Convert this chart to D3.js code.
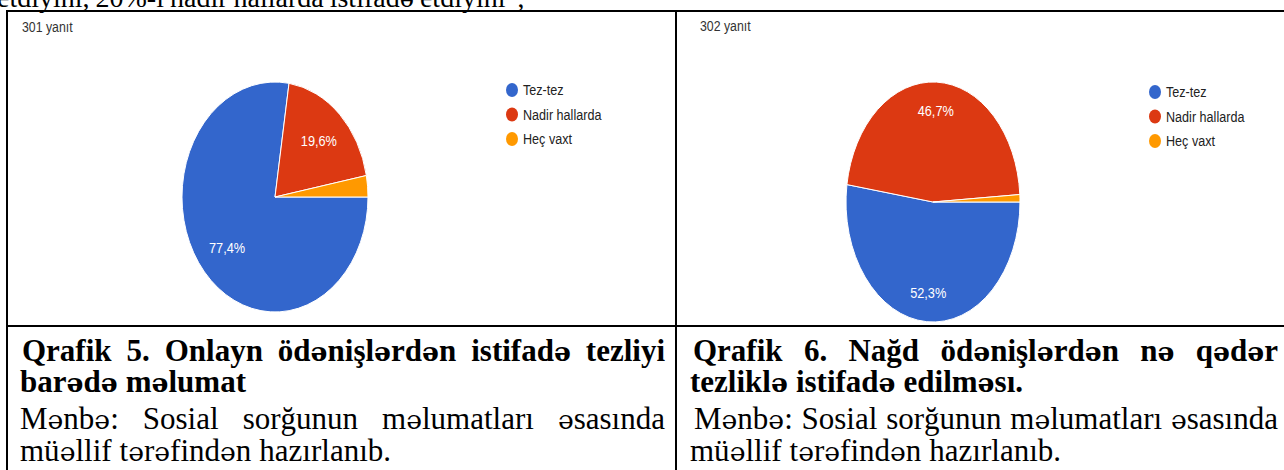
<!DOCTYPE html>
<html>
<head>
<meta charset="utf-8">
<script src="https://cdn.jsdelivr.net/npm/d3@7"></script>
<style>
  html, body { margin: 0; padding: 0; background: #fff; }
  svg { display: block; }
</style>
</head>
<body>
<svg id="page"></svg>
<script>
// survey answers (counts read from the percentages)
const categories = ["Tez-tez", "Nadir hallarda", "Heç vaxt"];
const onlineCounts = [233, 59, 9];   // 301 yanıt
const cashCounts = [158, 141, 3];    // 302 yanıt
const colors = ["#3366cc", "#dc3912", "#ff9900"];

const topLine = "etdiyini, 20%-i nadir hallarda istifadə etdiyini\";";
const caption5 = ["Qrafik 5. Onlayn ödənişlərdən istifadə tezliyi", "barədə məlumat"];
const caption6 = ["Qrafik 6. Nağd ödənişlərdən nə qədər", "tezliklə istifadə edilməsı."];
const source = ["Mənbə: Sosial sorğunun məlumatları əsasında", "müəllif tərəfindən hazırlanıb."];

const W = 1284, H = 470;
const svg = d3.select("#page").attr("width", W).attr("height", H);

const serif = "'Liberation Serif', 'Times New Roman', serif";
const sans = "'Liberation Sans', Arial, sans-serif";

// Liberation Serif has no schwa, so give that letter a serif fallback
function serifText(sel, str) {
  str.split(/([əƏ]+)/).filter(s => s.length).forEach(run => {
    const t = sel.append("tspan").text(run);
    if (/[əƏ]/.test(run)) t.attr("font-family", "'DejaVu Serif', serif").attr("font-size", "0.86em");
  });
  return sel;
}

// line of words, justified between x0 and x1 when asked
function textLine(str, x0, x1, y, size, bold, justify, gapMin) {
  const g = svg.append("g").attr("font-family", serif)
    .attr("font-size", size)
    .attr("font-weight", bold ? "bold" : "normal");
  const words = str.split(" ");
  const nodes = words.map(w => serifText(g.append("text").attr("y", y), w));
  const widths = nodes.map(n => n.node().getComputedTextLength());
  let gap = justify && words.length > 1
    ? (x1 - x0 - d3.sum(widths)) / (words.length - 1) : gapMin;
  if (gap < 6) gap = 6;
  let x = x0;
  nodes.forEach((n, i) => { n.attr("x", x); x += widths[i] + gap; });
}

// cut-off sentence above the table
textLine(topLine, -3, 510, 7, 28, false, true, 8);

// one pie per cell
function drawPie(counts, o) {
  const g = svg.append("g").attr("transform", `translate(${o.cx},${o.cy})`);
  const total = d3.sum(counts);
  const pie = d3.pie().sort(null)
    .startAngle(Math.PI / 2).endAngle(Math.PI / 2 + 2 * Math.PI);
  const arcs = pie(counts);
  const sx = o.rx / o.ry;
  const arc = d3.arc().innerRadius(0).outerRadius(o.ry);

  g.append("g").attr("transform", `scale(${sx},1)`)
    .selectAll("path").data(arcs).join("path")
    .attr("d", arc)
    .attr("fill", (d, i) => colors[i])
    .attr("stroke", "#fff").attr("stroke-width", 1)
    .attr("vector-effect", "non-scaling-stroke");

  const labArc = d3.arc().innerRadius(o.ry * o.lab).outerRadius(o.ry * o.lab);
  g.selectAll("text.lab").data(arcs.filter(d => d.value / total > 0.05)).join("text")
    .attr("class", "lab")
    .attr("transform", d => {
      const c = labArc.centroid(d);
      return `translate(${c[0] * sx},${c[1] + 5}) scale(0.85,1)`;
    })
    .attr("text-anchor", "middle")
    .attr("font-family", sans).attr("font-size", 15)
    .attr("fill", "#fff")
    .text(d => (d.value / total * 100).toFixed(1).replace(".", ",") + "%");

  svg.append("text")
    .attr("transform", `translate(${o.nx},${o.ny}) scale(0.85,1)`)
    .attr("font-family", sans).attr("font-size", 14.5).attr("fill", "#333")
    .text(total + " yanıt");

  const leg = svg.append("g").attr("transform", `translate(${o.lx},${o.ly})`);
  const rows = leg.selectAll("g").data(categories).join("g")
    .attr("transform", (d, i) => `translate(0,${i * 24.5})`);
  rows.append("ellipse").attr("rx", 6).attr("ry", 7)
    .attr("fill", (d, i) => colors[i]);
  rows.append("text")
    .attr("transform", "translate(11,5) scale(0.84,1)")
    .attr("font-family", sans).attr("font-size", 15).attr("fill", "#222")
    .text(d => d);
}

drawPie(onlineCounts, { cx: 275, cy: 197, rx: 93, ry: 115, lab: 0.68,
  nx: 22, ny: 32, lx: 512, ly: 90 });
drawPie(cashCounts, { cx: 933, cy: 202, rx: 87, ry: 120, lab: 0.76,
  nx: 700, ny: 31, lx: 1155, ly: 92 });

// table rules
const rules = svg.append("g").attr("stroke", "#000").attr("stroke-width", 2);
rules.append("line").attr("x1", 6).attr("x2", W).attr("y1", 11).attr("y2", 11);
rules.append("line").attr("x1", 6).attr("x2", W).attr("y1", 326).attr("y2", 326);
rules.append("line").attr("x1", 7).attr("x2", 7).attr("y1", 10).attr("y2", H);
rules.append("line").attr("x1", 676).attr("x2", 676).attr("y1", 10).attr("y2", H);

// captions
textLine(caption5[0], 22, 665, 361, 31, true, true);
textLine(caption5[1], 20, 665, 392, 31, true, false, 8);
textLine(source[0], 20, 665, 429, 31, false, true);
textLine(source[1], 20, 665, 461, 31, false, false, 8);

textLine(caption6[0], 693, 1278, 361, 31, true, true);
textLine(caption6[1], 690, 1278, 392, 31, true, false, 8);
textLine(source[0], 694, 1278, 429, 31, false, true);
textLine(source[1], 690, 1278, 461, 31, false, false, 8);
</script>
</body>
</html>
